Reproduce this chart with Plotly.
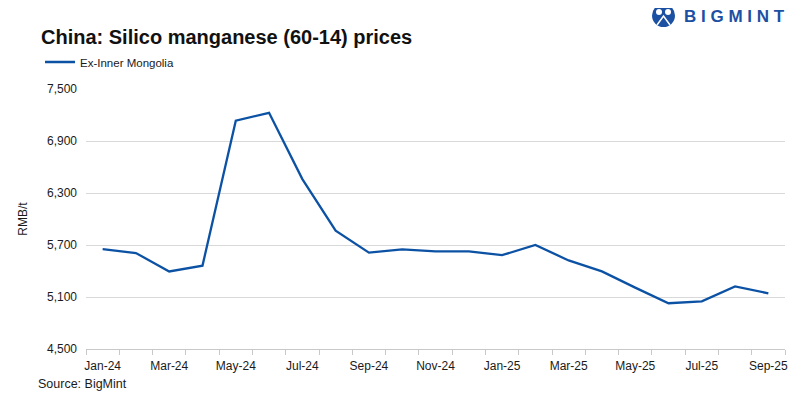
import plotly.graph_objects as go

months = ["Jan-24", "Feb-24", "Mar-24", "Apr-24", "May-24", "Jun-24", "Jul-24",
          "Aug-24", "Sep-24", "Oct-24", "Nov-24", "Dec-24", "Jan-25", "Feb-25",
          "Mar-25", "Apr-25", "May-25", "Jun-25", "Jul-25", "Aug-25", "Sep-25"]
prices = [5653, 5607, 5395, 5462, 7135, 7225, 6460,
          5865, 5612, 5650, 5627, 5627, 5583, 5700,
          5522, 5395, 5208, 5028, 5050, 5222, 5143]
series_name = "Ex-Inner Mongolia"
y_ticks = [4500, 5100, 5700, 6300, 6900, 7500]
x_label_months = months[::2]

LINE = "#0c52a4"
TXT = "#1a1a1a"
FONT = "Liberation Sans, Arial, sans-serif"

# page has an 8px body margin, so the figure is sized/offset to compensate
W, H = 792, 391

fig = go.Figure()
fig.add_trace(go.Scatter(
    x=months, y=prices, mode="lines", name=series_name,
    line=dict(color=LINE, width=2.3), xaxis="x", yaxis="y",
))
# invisible trace on a numeric overlay axis to draw tick marks at category boundaries
fig.add_trace(go.Scatter(x=[0], y=[prices[0]], mode="markers", marker=dict(opacity=0),
                         showlegend=False, hoverinfo="skip", xaxis="x2", yaxis="y"))

fig.update_layout(
    width=W, height=H,
    paper_bgcolor="white", plot_bgcolor="white",
    margin=dict(l=78, r=15, t=81, b=50, autoexpand=False),
    font=dict(family=FONT, size=12, color=TXT),
    title=dict(text="<b>China: Silico manganese (60-14) prices</b>",
               font=dict(family=FONT, size=20, color="#111111"),
               xref="container", yref="container", x=33/W, xanchor="left",
               y=1-29/H, yanchor="middle", automargin=False),
    showlegend=True,
    legend=dict(orientation="h", xref="container", yref="container",
                x=32/W, xanchor="left", y=1-54/H, yanchor="middle",
                font=dict(size=11.5, color=TXT), bgcolor="rgba(0,0,0,0)",
                itemwidth=30),
    xaxis=dict(type="category", range=[-0.5, len(months)-0.5], automargin=False,
               tickmode="array", tickvals=x_label_months, ticktext=x_label_months,
               showgrid=False, showline=True, linecolor="#c8c8c8", linewidth=1,
               ticks="", tickfont=dict(size=12, color=TXT), zeroline=False,
               ticklabelstandoff=6, fixedrange=True),
    xaxis2=dict(overlaying="x", side="bottom", range=[-0.5, len(months)-0.5],
                automargin=False,
                tickmode="array", tickvals=[i - 0.5 for i in range(len(months)+1)],
                showticklabels=False, ticks="outside", ticklen=5, tickcolor="#c8c8c8",
                showgrid=False, showline=False, zeroline=False),
    yaxis=dict(range=[4500, 7500], tickmode="array", tickvals=y_ticks, automargin=False,
               tickformat=",", showgrid=True, gridcolor="#d9d9d9", gridwidth=1,
               zeroline=False, showline=False, ticks="", ticklabelstandoff=8,
               tickfont=dict(size=12, color=TXT),
               title=dict(text="RMB/t", font=dict(size=12, color=TXT), standoff=16)),
)

fig.add_annotation(text="Source: BigMint", xref="paper", yref="paper",
                   x=(36-86)/699, y=-(384-349)/260, xanchor="left", yanchor="middle",
                   showarrow=False, font=dict(size=12.5, color=TXT))

# BigMint logo
LOGO = "#1b50a3"
fig.add_annotation(text="<b>B I G M I N T</b>", xref="paper", yref="paper",
                   x=(682-86)/699, y=1+(89-16)/260, xanchor="left", yanchor="middle",
                   showarrow=False, font=dict(size=17, color=LOGO, family=FONT))
fig.add_shape(type="circle", xref="paper", yref="paper",
              x0=(652-86)/699, x1=(675-86)/699, y0=1+(89-27)/260, y1=1+(89-4)/260,
              fillcolor=LOGO, line=dict(width=0))
for cx in (659, 668):
    fig.add_shape(type="circle", xref="paper", yref="paper",
                  x0=(cx-3-86)/699, x1=(cx+3-86)/699, y0=1+(89-15)/260, y1=1+(89-9)/260,
                  fillcolor="white", line=dict(width=0))
fig.add_shape(type="path", xref="paper", yref="paper",
              path=f"M {(657-86)/699},{1+(89-25)/260} L {(663.5-86)/699},{1+(89-16)/260} L {(670-86)/699},{1+(89-25)/260}",
              line=dict(color="white", width=1.5))

fig.write_html("out.html")
